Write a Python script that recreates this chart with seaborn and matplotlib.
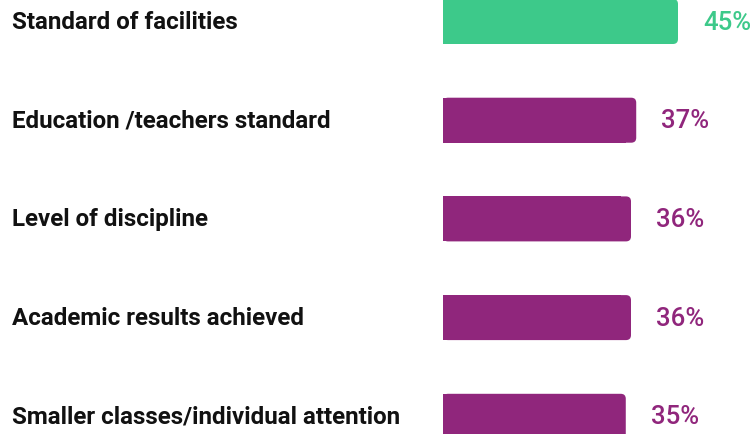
import matplotlib
matplotlib.use("Agg")
import matplotlib.pyplot as plt
from matplotlib.patches import FancyBboxPatch, Rectangle
import pandas as pd
import seaborn as sns

categories = ["Standard of facilities", "Education /teachers standard", "Level of discipline",
              "Academic results achieved", "Smaller classes/individual attention"]
values = [45, 37, 36, 36, 35]
value_labels = ["45%", "37%", "36%", "36%", "35%"]
colors = ["#3DC98A", "#90267C", "#90267C", "#90267C", "#90267C"]

df = pd.DataFrame({"factor": categories, "pct": values})

sns.set_theme(style="white")
plt.rcParams["font.family"] = ["Roboto", "DejaVu Sans"]

fig = plt.figure(figsize=(7.56, 4.35), dpi=100)
ax = fig.add_axes([0, 0, 1, 1])

px_x = 235 / 45      # pixels per percent
px_y = 98.7          # pixels per category step
bar_w = 45 / px_y

sns.barplot(data=df, x="pct", y="factor", hue="factor", palette=colors, legend=False,
            orient="h", width=bar_w, saturation=1, ax=ax)

ax.set_xlim(-443 / px_x, (756 - 443) / px_x)
ax.set_ylim((435 - 22.5) / px_y, -22.5 / px_y)

# swap square bars for bars with rounded right corners
r = 5 / px_x
for patch in list(ax.patches):
    x0, y0 = patch.get_x(), patch.get_y()
    w, h = patch.get_width(), patch.get_height()
    c = patch.get_facecolor()
    patch.remove()
    ax.add_patch(FancyBboxPatch((x0, y0), w, h, boxstyle=f"round,pad=0,rounding_size={r}",
                                mutation_aspect=px_x / px_y, facecolor=c, edgecolor="none"))
    ax.add_patch(Rectangle((x0, y0), w - 2 * r, h, facecolor=c, edgecolor="none"))

for i, (lab, v, c) in enumerate(zip(value_labels, values, colors)):
    ax.text(v + 25 / px_x, i, lab, color=c, fontsize=18.5, fontweight="medium", va="center", ha="left")
    ax.text(-431 / px_x, i, categories[i], color="#111111", fontsize=17.4, fontweight="bold",
            va="center", ha="left")

ax.set_axis_off()
fig.savefig("out.png", dpi=100, facecolor="white")
